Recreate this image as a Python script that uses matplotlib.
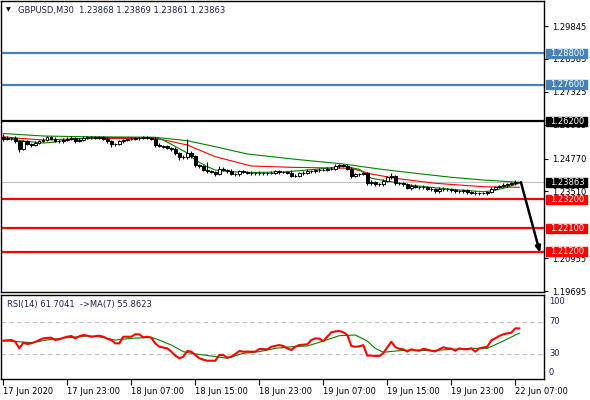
import numpy as np
import matplotlib.pyplot as plt
import matplotlib.transforms as mtransforms
from matplotlib.patches import Rectangle

plt.rcParams['font.family'] = ['DejaVu Sans']
plt.rcParams['font.size'] = 6

# --- свечи GBPUSD M30 (закрытия, тени в пипсах) ---
first_open = 1.25594
closes = [
    1.25517, 1.25556, 1.25556, 1.25441, 1.25134, 1.25441, 1.25326, 1.25288, 1.25364, 1.25441,
    1.25498, 1.25575, 1.25536, 1.25441, 1.25422, 1.25498, 1.25536, 1.25556, 1.25441, 1.25498,
    1.25556, 1.25575, 1.25575, 1.25556, 1.25575, 1.25536, 1.25422, 1.25307, 1.25326, 1.25422,
    1.25479, 1.25517, 1.25536, 1.25556, 1.25556, 1.25575, 1.25556, 1.25536, 1.25288, 1.25249,
    1.25230, 1.25173, 1.25134, 1.24981, 1.24828, 1.24809, 1.24981, 1.24866, 1.24522, 1.24464,
    1.24330, 1.24292, 1.24253, 1.24177, 1.24387, 1.24330, 1.24292, 1.24177, 1.24158, 1.24273,
    1.24253, 1.24234, 1.24196, 1.24196, 1.24215, 1.24196, 1.24215, 1.24234, 1.24292, 1.24253,
    1.24253, 1.24234, 1.24119, 1.24119, 1.24215, 1.24234, 1.24292, 1.24273, 1.24330, 1.24349,
    1.24330, 1.24387, 1.24387, 1.24483, 1.24522, 1.24483, 1.24368, 1.24100, 1.24158, 1.24177,
    1.24215, 1.23813, 1.23870, 1.23794, 1.23775, 1.23909, 1.24043, 1.24081, 1.23832, 1.23813,
    1.23775, 1.23641, 1.23736, 1.23679, 1.23660, 1.23679, 1.23621, 1.23583, 1.23507, 1.23621,
    1.23583, 1.23583, 1.23545, 1.23507, 1.23507, 1.23545, 1.23487, 1.23468, 1.23430, 1.23449,
    1.23449, 1.23487, 1.23621, 1.23679, 1.23717, 1.23756, 1.23794, 1.23813, 1.23870, 1.23863,
]
upper_pips = [
    10, 6, 4, 6, 4, 5, 4, 5, 6, 4,
    4, 5, 4, 6, 4, 5, 4, 6, 4, 5,
    8, 4, 5, 4, 6, 4, 4, 5, 4, 6,
    5, 4, 6, 4, 5, 4, 4, 5, 4, 6,
    4, 5, 4, 6, 5, 8, 54, 6, 5, 4,
    6, 32, 5, 4, 8, 4, 5, 6, 4, 5,
    4, 4, 5, 4, 6, 4, 5, 6, 4, 4,
    5, 4, 8, 4, 5, 4, 6, 4, 5, 4,
    6, 5, 4, 8, 5, 4, 6, 6, 5, 4,
    5, 4, 6, 5, 4, 6, 5, 15, 4, 5,
    4, 6, 4, 5, 4, 6, 4, 5, 4, 6,
    4, 5, 4, 6, 4, 5, 6, 4, 5, 4,
    4, 5, 6, 4, 5, 6, 4, 5, 6, 0,
]
lower_pips = [
    6, 5, 6, 8, 10, 4, 5, 6, 4, 5,
    4, 6, 5, 4, 6, 4, 5, 4, 6, 4,
    5, 4, 6, 5, 4, 6, 5, 8, 4, 5,
    6, 4, 5, 4, 6, 4, 5, 4, 8, 5,
    6, 4, 8, 6, 10, 5, 4, 6, 8, 6,
    5, 6, 4, 8, 4, 5, 6, 5, 6, 4,
    5, 6, 4, 5, 4, 6, 5, 4, 5, 6,
    4, 5, 6, 4, 5, 6, 4, 5, 4, 6,
    5, 4, 5, 4, 6, 5, 4, 6, 5, 4,
    5, 6, 5, 6, 5, 4, 5, 4, 6, 5,
    4, 5, 6, 5, 4, 6, 5, 4, 6, 5,
    4, 6, 5, 4, 5, 4, 6, 5, 6, 5,
    4, 6, 5, 4, 5, 4, 6, 5, 4, 1,
]

# --- скользящие средние на графике цены (номер бара, значение) ---
ma_fast_bars = [0, 5, 10, 13, 17, 25, 38, 40, 46, 48, 51, 53, 57, 62, 70, 82, 85, 89, 92, 97,
                101, 107, 112, 120, 122, 125, 129]
ma_fast = [1.25556, 1.25441, 1.25364, 1.25402, 1.25517, 1.25575, 1.25575, 1.25479, 1.24981, 1.24713,
           1.24456, 1.24330, 1.24265, 1.24234, 1.24253, 1.24407, 1.24483, 1.24357, 1.24012, 1.23882,
           1.23756, 1.23667, 1.23591, 1.23499, 1.23526, 1.23629, 1.23821]
ma_mid_bars = [0, 4, 10, 20, 38, 41, 46, 53, 62, 72, 87, 92, 98, 108, 120, 129]
ma_mid = [1.25605, 1.25544, 1.25479, 1.25529, 1.25544, 1.25452, 1.25288, 1.24839, 1.24483, 1.24433,
          1.24395, 1.24177, 1.24012, 1.23821, 1.23690, 1.23667]
ma_slow_bars = [0, 10, 20, 38, 46, 53, 61, 73, 85, 94, 103, 112, 120, 129]
ma_slow = [1.25728, 1.25632, 1.25605, 1.25582, 1.25452, 1.25222, 1.24943, 1.24740, 1.24560, 1.24368,
           1.24204, 1.24051, 1.23947, 1.23859]

# --- уровни ---
blue_levels = [1.28800, 1.27600]
black_levels = [1.26200]
red_levels = [1.23200, 1.22100, 1.21200]
last_price = 1.23863
arrow_target = 1.21151
price_ticks = [1.29845, 1.28585, 1.27325, 1.26065, 1.24770, 1.23510, 1.20955, 1.19695]

# --- RSI(14) и его MA(7) ---
rsi = [
    46.5, 47, 47.3, 45.2, 37, 44, 42.4, 43.2, 45, 47.3,
    49.4, 50, 50.2, 47.3, 48.2, 50, 51.4, 52.3, 49.4, 52,
    53.5, 52.7, 51.4, 52, 52.7, 51.4, 49, 47.3, 43.2, 43.2,
    51.4, 51.4, 51.4, 54.4, 54.4, 50.7, 51.4, 50.2, 43.2, 39,
    38, 37, 33, 28, 24.7, 26.7, 33.7, 32.9, 28.8, 24.7,
    23, 21.7, 21.7, 21.7, 28.8, 28.8, 25.4, 26.7, 30, 33.7,
    32.9, 32.9, 32.9, 32.9, 36.2, 36, 35.8, 39, 40, 41.1,
    39.9, 37, 35, 39, 41.1, 41.5, 42, 47.3, 49.4, 49,
    46.1, 51.4, 56.9, 58, 58.5, 57, 53.5, 40, 39, 39.5,
    41, 28, 28, 27.5, 27.5, 31, 38, 45.2, 38.5, 36.5,
    35.8, 33, 35.8, 34.5, 34, 36.5, 35.5, 34, 33.2, 35.8,
    38.3, 37, 36.6, 34.1, 37, 36, 35.8, 37, 32.9, 37,
    38, 39, 47, 49.4, 52.3, 54.4, 55.5, 56.4, 61.8, 61.7,
]
rsi_ma_bars = [0, 4, 7, 12, 16, 21, 24, 28, 32, 37, 39, 42, 45, 47, 52, 56, 60, 64, 68, 72,
               76, 80, 84, 88, 91, 93, 95, 98, 102, 107, 112, 117, 121, 125, 129]
rsi_ma = [46.5, 45.2, 44, 48.2, 50.2, 52.3, 51.4, 47.3, 49.4, 50.7, 47.3, 41.1, 32.9, 30.9, 27.5,
          24.7, 30.9, 32.9, 37, 39, 39.9, 46.1, 52.7, 53.5, 46.1, 37, 32.1, 33.7, 35, 34.1,
          35.8, 37, 37, 46.1, 55.9]
rsi_levels = [70, 30]

tick_bars = [0, 16, 32, 48, 64, 80, 96, 112, 128]
tick_labels = ['17 Jun 2020', '17 Jun 23:00', '18 Jun 07:00', '18 Jun 15:00', '18 Jun 23:00',
               '19 Jun 07:00', '19 Jun 15:00', '19 Jun 23:00', '22 Jun 07:00']

title_text = 'GBPUSD,M30  1.23868 1.23869 1.23861 1.23863'
rsi_text = 'RSI(14) 61.7041  ->MA(7) 55.8623'

TEXT_BLUE = '#1b1f4b'
STEEL = '#4682b4'

# OHLC
opens = [first_open] + closes[:-1]
o = np.array(opens)
c = np.array(closes)
highs = np.maximum(o, c) + np.array(upper_pips) * 1e-4
lows = np.minimum(o, c) - np.array(lower_pips) * 1e-4
x = np.arange(len(closes))

fig = plt.figure(figsize=(5.9, 4.0), dpi=100)
ax = fig.add_axes([1 / 590, 108 / 400, 543 / 590, 291 / 400])
ax_rsi = fig.add_axes([1 / 590, 21 / 400, 543 / 590, 84 / 400])

# --- основной график ---
for lv in blue_levels:
    ax.axhline(lv, color=STEEL, lw=1.6, zorder=1)
for lv in black_levels:
    ax.axhline(lv, color='black', lw=1.6, zorder=1)
for lv in red_levels:
    ax.axhline(lv, color='red', lw=1.6, zorder=1)
ax.axhline(last_price, color='#c0c0c0', lw=0.8, zorder=1)

ax.plot(ma_slow_bars, ma_slow, color='green', lw=0.8, zorder=2)
ax.plot(ma_mid_bars, ma_mid, color='red', lw=0.8, zorder=2)
ax.plot(ma_fast_bars, ma_fast, color='green', lw=0.8, zorder=2)

ax.vlines(x, lows, highs, color='black', lw=0.8, zorder=3)
face = ['white' if cc > oo else 'black' for oo, cc in zip(o, c)]
ax.bar(x, np.abs(c - o), width=0.6, bottom=np.minimum(o, c), color=face,
       edgecolor='black', linewidth=0.7, zorder=4)

ax.annotate('', xy=(134.2, arrow_target), xytext=(x[-1] + 0.4, last_price),
            arrowprops=dict(arrowstyle='-|>,head_length=0.6,head_width=0.25', color='black',
                            lw=1.8, shrinkA=0, shrinkB=0), annotation_clip=False, zorder=6)

ax.set_xlim(-0.575, 135.175)
ax.set_ylim(1.19657, 1.30803)
ax.set_xticks([])
ax.yaxis.tick_right()
ax.set_yticks(price_ticks)
ax.set_yticklabels([f'{v:.5f}' for v in price_ticks])
ax.tick_params(axis='y', length=3, width=0.8, pad=3, labelsize=6, colors='black')
for s in ax.spines.values():
    s.set_linewidth(1)

# плашки с ценами уровней справа
trans = mtransforms.blended_transform_factory(ax.transAxes, ax.transData)
tag_h = 9 / 2611


def level_tag(value, color):
    ax.add_patch(Rectangle((1.0037, value - tag_h / 2), 0.0755, tag_h, transform=trans,
                           color=color, clip_on=False, zorder=7))
    ax.text(1.0115, value, f'{value:.5f}', transform=trans, ha='left', va='center',
            color='white', fontsize=6, zorder=8, clip_on=False)


for lv in blue_levels:
    level_tag(lv, STEEL)
for lv in black_levels:
    level_tag(lv, 'black')
for lv in red_levels:
    level_tag(lv, 'red')
level_tag(last_price, 'black')

ax.text(0.0085, 0.969, '\u25bc', transform=ax.transAxes, fontsize=4.5, color='black',
        ha='left', va='center')
ax.text(0.0313, 0.969, title_text, transform=ax.transAxes, fontsize=6, color=TEXT_BLUE,
        ha='left', va='center')

# --- RSI ---
for lv in rsi_levels:
    ax_rsi.axhline(lv, color='#c0c0c0', lw=0.8, ls=(0, (4, 3)), zorder=1)
ax_rsi.plot(rsi_ma_bars, rsi_ma, color='green', lw=0.8, zorder=2)
ax_rsi.plot(x, rsi, color='red', lw=1.5, zorder=3)
ax_rsi.set_xlim(-0.575, 135.175)
ax_rsi.set_ylim(-0.96, 103.1)
ax_rsi.set_yticks([])
ax_rsi.set_xticks(tick_bars)
ax_rsi.set_xticklabels(tick_labels, ha='left')
ax_rsi.tick_params(axis='x', length=4, width=0.8, pad=2, labelsize=6, colors='black')
for s in ax_rsi.spines.values():
    s.set_linewidth(1)

for lab, yy in zip(['100', '70', '30', '0'], [0.917, 0.682, 0.298, 0.083]):
    ax_rsi.text(1.009, yy, lab, transform=ax_rsi.transAxes, fontsize=6, color=TEXT_BLUE,
                ha='left', va='center', clip_on=False)
ax_rsi.text(0.011, 0.881, rsi_text, transform=ax_rsi.transAxes, fontsize=6, color=TEXT_BLUE,
            ha='left', va='center')

fig.savefig('out.png', dpi=100)
